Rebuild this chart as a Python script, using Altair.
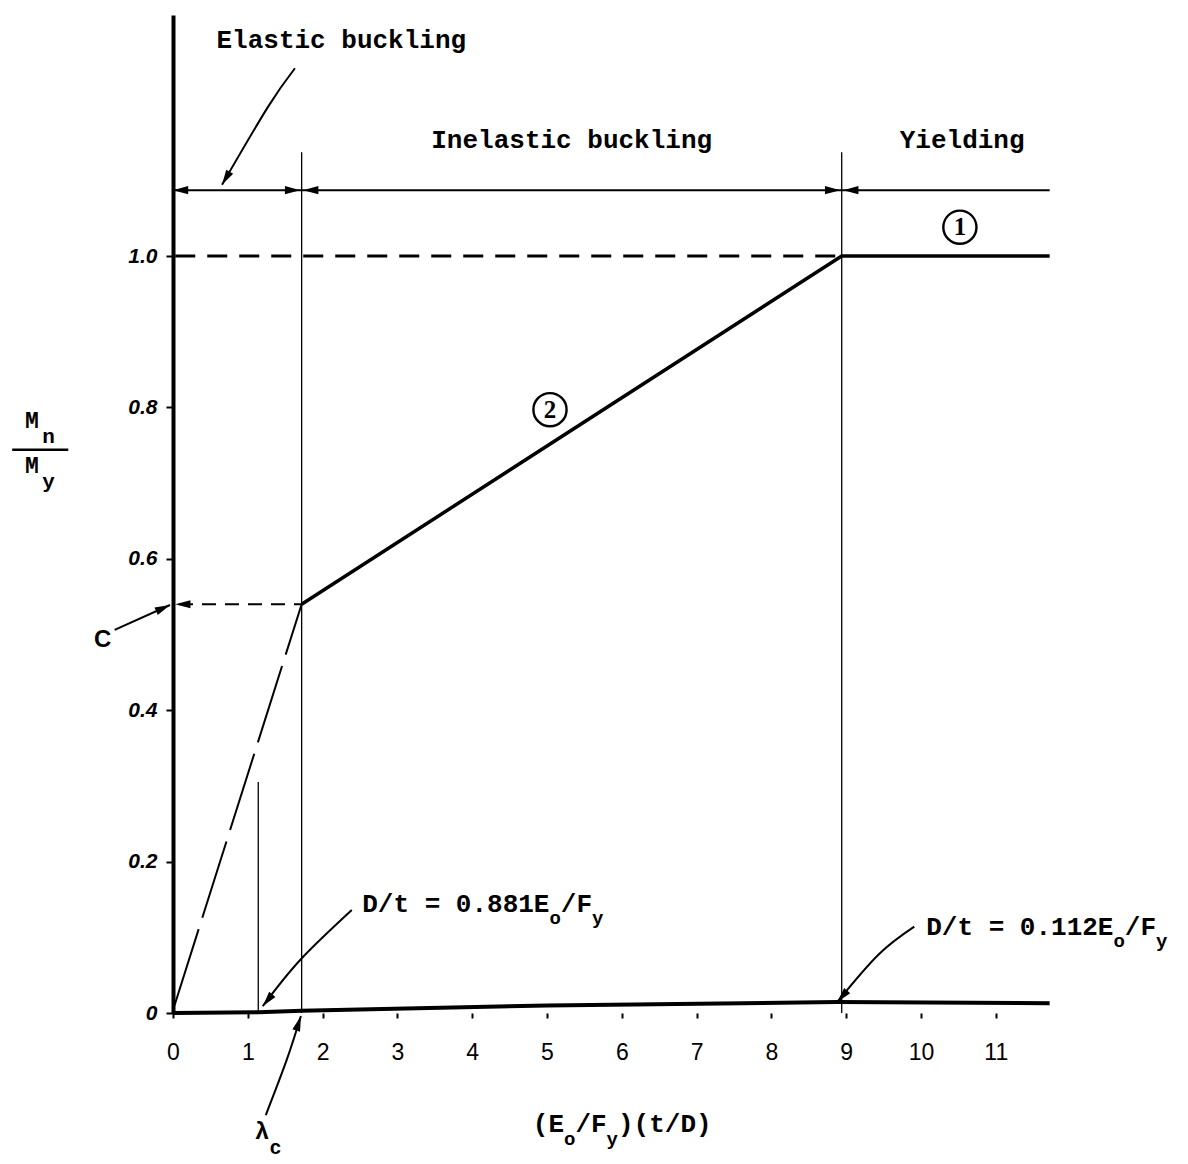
import math
import altair as alt
import pandas as pd

# ---- scale geometry (pixels per data unit) ----
X_PX = 74.8
Y_PX = 757.0
PLOT_W = 1010
PLOT_H = 998
X_MAX = PLOT_W / X_PX
Y_MAX = PLOT_H / Y_PX

# ---- data ----
lam_c = 1.72          # end of elastic range
lam_y = 8.94          # end of inelastic range
lam_881 = 1.14        # D/t = 0.881 Eo/Fy
x_end = 11.72
c_val = 0.540         # C
arrow_band_y = 1.087  # level of the range arrows
guide_top = 1.137

# curve 2 (inelastic) + curve 1 (yielding plateau)
curve_x = [lam_c, lam_y, x_end]
curve_y = [c_val, 1.0, 1.0]

# lower boundary line
base_x = [0.0, 1.14, 1.72, 5.0, 8.88, x_end]
base_y = [0.0, 0.001, 0.003, 0.010, 0.0145, 0.013]

# elastic extension from the origin to C
elastic_x = [0.02, lam_c]
elastic_y = [0.01, c_val]

x_ticks = list(range(0, 12))
y_ticks = [0.0, 0.2, 0.4, 0.6, 0.8, 1.0]

# curved leader lines: id, x, y (tip last)
leaders = {
    "elastic": ([1.63, 1.27, 0.655], [1.248, 1.197, 1.094]),
    "d881": ([2.39, 1.70, 1.20], [0.136, 0.070, 0.009]),
    "d112": ([9.91, 9.43, 8.88], [0.114, 0.077, 0.0145]),
    "lamc": ([1.24, 1.52, 1.71], [-0.135, -0.062, -0.004]),
    "C": ([-0.78, -0.04], [0.506, 0.539]),
}

# straight arrowheads on the range band: tip x, tip y, direction (deg)
band_heads_x = [0.0, lam_c - 0.02, lam_c + 0.02, lam_y - 0.02, lam_y + 0.02, 0.03]
band_heads_y = [arrow_band_y] * 5 + [c_val]
band_heads_dir = [270, 90, 270, 90, 270, 270]

MAIN_FS = 26
SUB_FS = 19
MONO = "Liberation Mono"


def heading(x0, y0, x1, y1):
    dx = (x1 - x0) * X_PX
    dy = -(y1 - y0) * Y_PX
    return math.degrees(math.atan2(dx, -dy)) % 360


def typeset(pieces, x0, y0, drop):
    rows = []
    off = 0.0
    for txt, sub in pieces:
        fs = SUB_FS if sub else MAIN_FS
        rows.append({"t": txt, "x": x0 + off / X_PX,
                     "y": y0 - (drop if sub else 0.0), "fs": fs})
        off += len(txt) * fs * 0.6
    return rows


# ---- build tables ----
curve_df = pd.DataFrame({"x": curve_x, "y": curve_y})
base_df = pd.DataFrame({"x": base_x, "y": base_y})
elastic_df = pd.DataFrame({"x": elastic_x, "y": elastic_y})

lead_rows = []
head_rows = []
for key, (lx, ly) in leaders.items():
    for i, (a, b) in enumerate(zip(lx, ly)):
        lead_rows.append({"id": key, "i": i, "x": a, "y": b})
    head_rows.append({"x": lx[-1], "y": ly[-1],
                      "ang": heading(lx[-2], ly[-2], lx[-1], ly[-1])})
for a, b, d in zip(band_heads_x, band_heads_y, band_heads_dir):
    head_rows.append({"x": a, "y": b, "ang": d})
lead_df = pd.DataFrame(lead_rows)
head_df = pd.DataFrame(head_rows)

vguides = pd.DataFrame({"x": [lam_c, lam_y, lam_881],
                        "y": [0.0, 0.0, 0.0],
                        "y2": [guide_top, guide_top, 0.305]})

band_df = pd.DataFrame({"x": [0.0], "x2": [x_end], "y": [arrow_band_y]})
dash1_df = pd.DataFrame({"x": [0.03], "x2": [lam_y], "y": [1.0]})
dashc_df = pd.DataFrame({"x": [0.08], "x2": [lam_c], "y": [c_val]})

heads_txt = pd.DataFrame({
    "t": ["Elastic buckling", "Inelastic buckling", "Yielding"],
    "x": [2.25, 5.33, 10.55],
    "y": [1.275, 1.143, 1.143],
})

eq_rows = []
eq_rows += typeset([("D/t = 0.881E", False), ("o", True), ("/F", False), ("y", True)],
                   2.53, 0.133, 0.016)
eq_rows += typeset([("D/t = 0.112E", False), ("o", True), ("/F", False), ("y", True)],
                   10.07, 0.103, 0.016)
eq_rows += typeset([("(E", False), ("o", True), ("/F", False), ("y", True), (")(t/D)", False)],
                   4.81, -0.157, 0.017)
eq_df = pd.DataFrame(eq_rows)

misc_txt = pd.DataFrame({
    "t": ["M", "n", "M", "y", "\u03bb", "c"],
    "x": [-1.885, -1.665, -1.885, -1.665, 1.19, 1.37],
    "y": [0.773, 0.753, 0.713, 0.694, -0.166, -0.186],
    "fs": [23, 21, 23, 21, 24, 20],
})
frac_df = pd.DataFrame({"x": [-2.15], "x2": [-1.40], "y": [0.744]})

circ_df = pd.DataFrame({"t": ["1", "2"], "x": [10.52, 5.04], "y": [1.038, 0.797]})
c_df = pd.DataFrame({"t": ["C"], "x": [-0.94], "y": [0.493]})

# ---- encodings ----
xs = alt.Scale(domain=[0, X_MAX], nice=False, zero=False)
ys = alt.Scale(domain=[0, Y_MAX], nice=False, zero=False)
x_axis = alt.Axis(values=x_ticks, title=None, grid=False, domain=False,
                  tickSize=5, tickWidth=2, tickColor="black",
                  labelFont="Liberation Sans", labelFontSize=23, labelColor="black",
                  labelPadding=23, labelFlush=False)
y_axis = alt.Axis(values=y_ticks, title=None, grid=False,
                  domainWidth=4, domainColor="black",
                  tickSize=7, tickWidth=2, tickColor="black",
                  labelFont="Liberation Sans", labelFontSize=21, labelFontWeight="bold",
                  labelFontStyle="italic", labelColor="black", labelPadding=9,
                  labelExpr="datum.value == 0 ? '0' : format(datum.value, '.1f')")


def X(f="x"):
    return alt.X(f"{f}:Q", scale=xs, axis=x_axis)


def Y(f="y"):
    return alt.Y(f"{f}:Q", scale=ys, axis=y_axis)


curve = alt.Chart(curve_df).mark_line(color="black", strokeWidth=3.5).encode(
    x=X(), y=Y(), order="x:Q")
base = alt.Chart(base_df).mark_line(color="black", strokeWidth=4).encode(
    x=X(), y=Y(), order="x:Q")
elastic = alt.Chart(elastic_df).mark_line(
    color="black", strokeWidth=2, strokeDash=[80, 12]).encode(x=X(), y=Y())

guides = alt.Chart(vguides).mark_rule(color="black", strokeWidth=1.3).encode(
    x=X(), y=Y(), y2="y2:Q")
band = alt.Chart(band_df).mark_rule(color="black", strokeWidth=2).encode(
    x=X(), x2="x2:Q", y=Y())
dash1 = alt.Chart(dash1_df).mark_rule(
    color="black", strokeWidth=3, strokeDash=[20, 12]).encode(x=X(), x2="x2:Q", y=Y())
dashc = alt.Chart(dashc_df).mark_rule(
    color="black", strokeWidth=2, strokeDash=[14, 9]).encode(x=X(), x2="x2:Q", y=Y())

leads = alt.Chart(lead_df).mark_line(
    color="black", strokeWidth=2, interpolate="natural").encode(
    x=X(), y=Y(), detail="id:N", order="i:Q")
heads = alt.Chart(head_df).mark_point(
    shape="M0,0L-0.45,1.7L0.45,1.7Z", filled=True, color="black",
    opacity=1, size=320).encode(
    x=X(), y=Y(), angle=alt.Angle("ang:Q", scale=None))

head_text = alt.Chart(heads_txt).mark_text(
    font=MONO, fontSize=MAIN_FS, fontWeight="bold", align="center",
    baseline="alphabetic", color="black").encode(x=X(), y=Y(), text="t:N")
eq_text = alt.Chart(eq_df).mark_text(
    font=MONO, fontWeight="bold", align="left", baseline="alphabetic",
    color="black").encode(x=X(), y=Y(), text="t:N",
                          size=alt.Size("fs:Q", scale=None))
misc_text = alt.Chart(misc_txt).mark_text(
    font=MONO, fontWeight="bold", align="center", baseline="alphabetic",
    color="black").encode(x=X(), y=Y(), text="t:N",
                          size=alt.Size("fs:Q", scale=None))
frac = alt.Chart(frac_df).mark_rule(color="black", strokeWidth=2.5).encode(
    x=X(), x2="x2:Q", y=Y())

circles = alt.Chart(circ_df).mark_point(
    shape="circle", size=1100, filled=False, color="black",
    strokeWidth=2.4, opacity=1).encode(x=X(), y=Y())
circ_num = alt.Chart(circ_df).mark_text(
    font="Liberation Serif", fontSize=25, fontWeight="bold", align="center",
    baseline="middle", color="black").encode(x=X(), y=Y(), text="t:N")
c_text = alt.Chart(c_df).mark_text(
    font="Liberation Sans", fontSize=24, fontWeight="bold", align="center",
    baseline="middle", color="black").encode(x=X(), y=Y(), text="t:N")

chart = alt.layer(
    guides, band, dash1, dashc, elastic, base, curve, leads, heads,
    head_text, eq_text, misc_text, frac, circles, circ_num, c_text,
).properties(
    width=PLOT_W, height=PLOT_H,
    autosize=alt.AutoSizeParams(type="none"),
    padding={"left": 173, "top": 15, "right": 5, "bottom": 151},
    background="white",
).configure_view(stroke=None)

chart.save("out.html", embed_options={"renderer": "svg", "actions": False})
